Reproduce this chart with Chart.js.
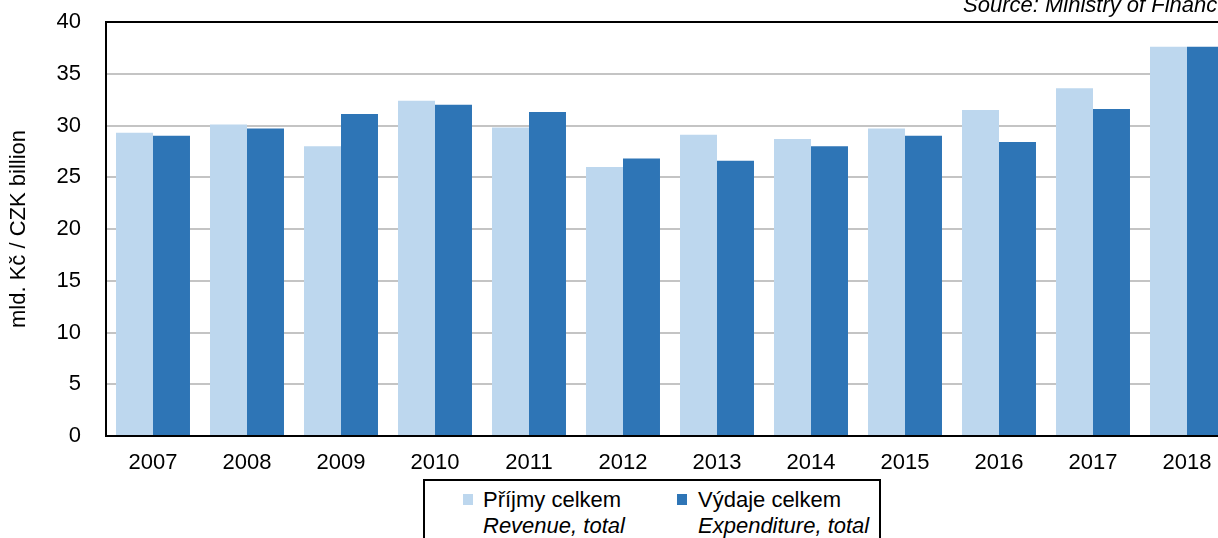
<!DOCTYPE html>
<html>
<head>
<meta charset="utf-8">
<script src="https://cdn.jsdelivr.net/npm/chart.js@4/dist/chart.umd.min.js"></script>
<style>
  html, body { margin: 0; padding: 0; background: #fff; overflow: hidden; width: 1218px; height: 538px; }
  #wrap { position: relative; width: 1234px; height: 538px; }
  canvas { position: absolute; left: 0; top: 0; }
  .src { position: absolute; left: 963px; top: -6px; font: italic 22px "Liberation Sans", Arial, sans-serif; line-height: 22px; white-space: nowrap; color: #000; }
  .legend { position: absolute; left: 423px; top: 479px; width: 454px; height: 80px; border: 2px solid #000; background: #fff; font-family: "Liberation Sans", Arial, sans-serif; font-size: 22px; color: #000; }
  .item { position: absolute; top: 6px; }
  .sw { position: absolute; width: 10px; height: 11px; top: 7px; }
  .t1 { position: absolute; top: 0px; white-space: nowrap; line-height: 26px; }
  .t2 { position: absolute; top: 26px; white-space: nowrap; line-height: 26px; font-style: italic; }
</style>
</head>
<body>
<div id="wrap">
  <canvas id="c" width="1234" height="538"></canvas>
  <div class="src" id="src"></div>
  <div class="legend" id="legend"></div>
</div>
<script>
const years = ['2007','2008','2009','2010','2011','2012','2013','2014','2015','2016','2017','2018'];
const revenue = [29.3, 30.1, 28.0, 32.4, 29.8, 26.0, 29.1, 28.7, 29.7, 31.5, 33.6, 37.6];
const expenditure = [29.0, 29.7, 31.1, 32.0, 31.3, 26.8, 26.6, 28.0, 29.0, 28.4, 31.6, 37.6];
const seriesCz = ['Příjmy celkem', 'Výdaje celkem'];
const seriesEn = ['Revenue, total', 'Expenditure, total'];
const colors = ['#BDD7EE', '#2E75B6'];
const yTitle = 'mld. Kč / CZK billion';
const sourceText = 'Source: Ministry of Finance';
const yMin = 0, yMax = 40, yStep = 5;

document.getElementById('src').textContent = sourceText;

// HTML legend
const leg = document.getElementById('legend');
const itemX = [38, 252];
const textX = [20, 21];
seriesCz.forEach((name, i) => {
  const it = document.createElement('div');
  it.className = 'item';
  it.style.left = itemX[i] + 'px';
  it.innerHTML = '<div class="sw" style="left:0;background:' + colors[i] + '"></div>' +
    '<div class="t1" style="left:' + textX[i] + 'px">' + name + '</div>' +
    '<div class="t2" style="left:' + textX[i] + 'px">' + seriesEn[i] + '</div>';
  leg.appendChild(it);
});

const font = { family: '"Liberation Sans", Arial, sans-serif', size: 22 };

new Chart(document.getElementById('c'), {
  type: 'bar',
  data: {
    labels: years,
    datasets: [
      { label: seriesCz[0], data: revenue, backgroundColor: colors[0], borderWidth: 0, categoryPercentage: 0.787, barPercentage: 1.0 },
      { label: seriesCz[1], data: expenditure, backgroundColor: colors[1], borderWidth: 0, categoryPercentage: 0.787, barPercentage: 1.0 }
    ]
  },
  options: {
    responsive: false,
    animation: false,
    devicePixelRatio: 1,
    layout: { padding: { left: 0, right: 0, top: 22, bottom: 0 } },
    plugins: { legend: { display: false }, tooltip: { enabled: false }, title: { display: false } },
    scales: {
      x: {
        grid: { display: false, drawTicks: false },
        border: { display: true, color: '#000', width: 2 },
        ticks: { color: '#000', font: font, padding: 14, maxRotation: 0 },
        afterFit: (s) => { s.height = 102; s.paddingLeft = 0; s.paddingRight = 0; }
      },
      y: {
        min: yMin, max: yMax,
        grid: {
          drawTicks: false,
          lineWidth: 2,
          color: (ctx) => (ctx.tick && ctx.tick.value === yMax) ? '#000' : '#c4c4c4'
        },
        border: { display: true, color: '#000', width: 2 },
        ticks: { stepSize: yStep, color: '#000', font: font, padding: 25 },
        title: { display: true, text: yTitle, color: '#000', font: font, padding: { top: 6, bottom: 0 } },
        afterFit: (s) => { s.width = 106; s.paddingTop = 0; s.paddingBottom = 0; }
      }
    }
  }
});
</script>
</body>
</html>
